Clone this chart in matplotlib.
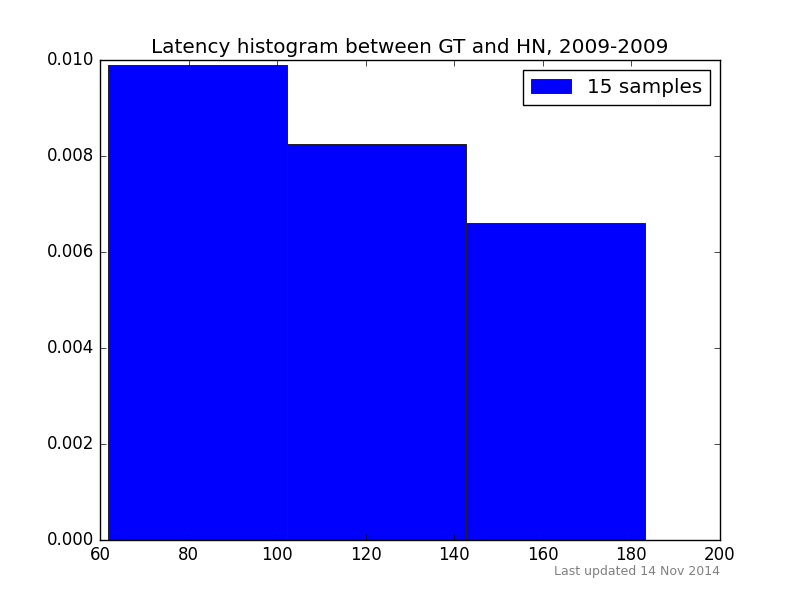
import matplotlib
matplotlib.use('Agg')
import matplotlib.pyplot as plt
import numpy as np

plt.style.use('classic')

# DADOS
bin_edges = [61.9, 102.3, 142.7, 183.1]
counts = [6, 5, 4]
n_samples = 15
title = 'Latency histogram between GT and HN, 2009-2009'
footnote = 'Last updated 14 Nov 2014'

fig = plt.figure(figsize=(8, 6), dpi=100)
ax = fig.add_subplot(111)

ax.hist(bin_edges[:-1], bins=bin_edges, weights=counts, density=True,
        color='blue', edgecolor='#222222', linewidth=0.7,
        label='%d samples' % n_samples)

ax.set_xlim(60, 200)
ax.set_ylim(0, 0.010)
ax.set_xticks(np.arange(60, 201, 20))
ax.set_yticks(np.arange(0, 0.0101, 0.002))
ax.yaxis.set_major_formatter(matplotlib.ticker.FormatStrFormatter('%.3f'))
ax.set_title(title)
ax.legend(loc='upper right')

fig.text(0.9, 0.048, footnote, ha='right', va='center', fontsize=9, color='gray')

fig.savefig('out.png', dpi=100, facecolor='white')
